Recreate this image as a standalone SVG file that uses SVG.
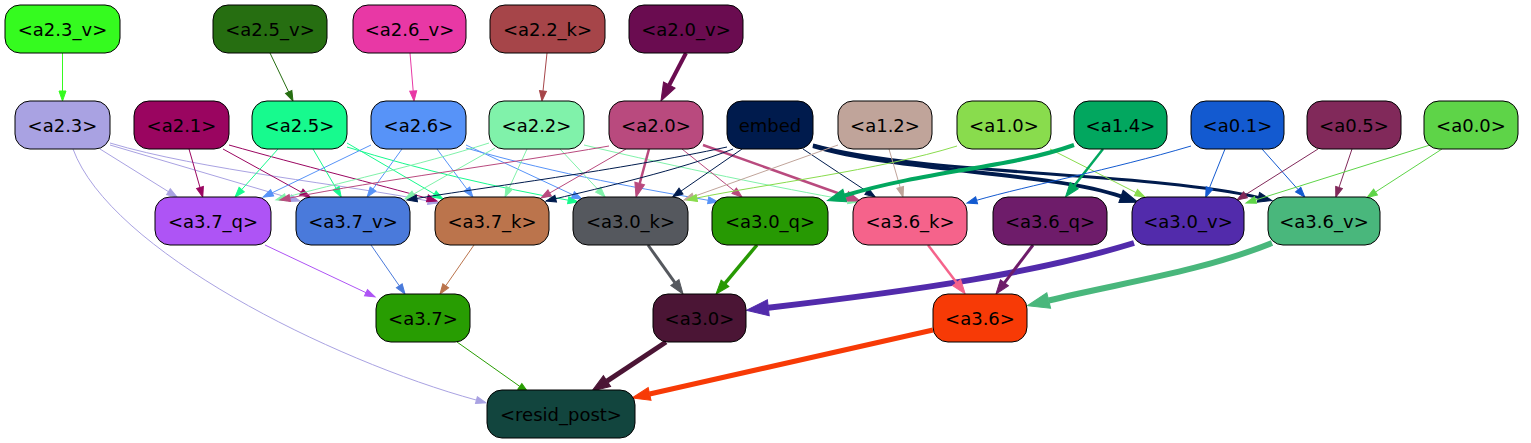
<svg xmlns="http://www.w3.org/2000/svg" width="1531" height="443" viewBox="0 0 1531 443">
<style>
.n rect{stroke:#000;stroke-width:1}
.n text{font-family:"DejaVu Sans","Liberation Sans",sans-serif;font-size:18px;text-anchor:middle;fill:#000}
#edges path{fill:none}
</style>
<defs>
<marker id="t-a23v" markerUnits="userSpaceOnUse" orient="auto" overflow="visible" markerWidth="1" markerHeight="1"><path d="M0,-3.5L10,0L0,3.5z" fill="#35fb1f" stroke="#35fb1f"/></marker>
<marker id="t-a25v" markerUnits="userSpaceOnUse" orient="auto" overflow="visible" markerWidth="1" markerHeight="1"><path d="M0,-3.5L10,0L0,3.5z" fill="#266e11" stroke="#266e11"/></marker>
<marker id="t-a26v" markerUnits="userSpaceOnUse" orient="auto" overflow="visible" markerWidth="1" markerHeight="1"><path d="M0,-3.5L10,0L0,3.5z" fill="#e838a5" stroke="#e838a5"/></marker>
<marker id="t-a22k" markerUnits="userSpaceOnUse" orient="auto" overflow="visible" markerWidth="1" markerHeight="1"><path d="M0,-3.5L10,0L0,3.5z" fill="#a64549" stroke="#a64549"/></marker>
<marker id="t-a23" markerUnits="userSpaceOnUse" orient="auto" overflow="visible" markerWidth="1" markerHeight="1"><path d="M0,-3.5L10,0L0,3.5z" fill="#a9a2e2" stroke="#a9a2e2"/></marker>
<marker id="t-a21" markerUnits="userSpaceOnUse" orient="auto" overflow="visible" markerWidth="1" markerHeight="1"><path d="M0,-3.5L10,0L0,3.5z" fill="#9a0560" stroke="#9a0560"/></marker>
<marker id="t-a25" markerUnits="userSpaceOnUse" orient="auto" overflow="visible" markerWidth="1" markerHeight="1"><path d="M0,-3.5L10,0L0,3.5z" fill="#17fa8e" stroke="#17fa8e"/></marker>
<marker id="t-a26" markerUnits="userSpaceOnUse" orient="auto" overflow="visible" markerWidth="1" markerHeight="1"><path d="M0,-3.5L10,0L0,3.5z" fill="#5793f8" stroke="#5793f8"/></marker>
<marker id="t-a22" markerUnits="userSpaceOnUse" orient="auto" overflow="visible" markerWidth="1" markerHeight="1"><path d="M0,-3.5L10,0L0,3.5z" fill="#80f2aa" stroke="#80f2aa"/></marker>
<marker id="t-a20" markerUnits="userSpaceOnUse" orient="auto" overflow="visible" markerWidth="1" markerHeight="1"><path d="M0,-3.5L10,0L0,3.5z" fill="#b94a7e" stroke="#b94a7e"/></marker>
<marker id="t-emb" markerUnits="userSpaceOnUse" orient="auto" overflow="visible" markerWidth="1" markerHeight="1"><path d="M0,-3.5L10,0L0,3.5z" fill="#001b4d" stroke="#001b4d"/></marker>
<marker id="t-a12" markerUnits="userSpaceOnUse" orient="auto" overflow="visible" markerWidth="1" markerHeight="1"><path d="M0,-3.5L10,0L0,3.5z" fill="#c0a49a" stroke="#c0a49a"/></marker>
<marker id="t-a10" markerUnits="userSpaceOnUse" orient="auto" overflow="visible" markerWidth="1" markerHeight="1"><path d="M0,-3.5L10,0L0,3.5z" fill="#89dc4d" stroke="#89dc4d"/></marker>
<marker id="t-a01" markerUnits="userSpaceOnUse" orient="auto" overflow="visible" markerWidth="1" markerHeight="1"><path d="M0,-3.5L10,0L0,3.5z" fill="#135ad0" stroke="#135ad0"/></marker>
<marker id="t-a05" markerUnits="userSpaceOnUse" orient="auto" overflow="visible" markerWidth="1" markerHeight="1"><path d="M0,-3.5L10,0L0,3.5z" fill="#81295a" stroke="#81295a"/></marker>
<marker id="t-a00" markerUnits="userSpaceOnUse" orient="auto" overflow="visible" markerWidth="1" markerHeight="1"><path d="M0,-3.5L10,0L0,3.5z" fill="#5ed448" stroke="#5ed448"/></marker>
<marker id="t-a37q" markerUnits="userSpaceOnUse" orient="auto" overflow="visible" markerWidth="1" markerHeight="1"><path d="M0,-3.5L10,0L0,3.5z" fill="#ae54f5" stroke="#ae54f5"/></marker>
<marker id="t-a37v" markerUnits="userSpaceOnUse" orient="auto" overflow="visible" markerWidth="1" markerHeight="1"><path d="M0,-3.5L10,0L0,3.5z" fill="#4a7adb" stroke="#4a7adb"/></marker>
<marker id="t-a37k" markerUnits="userSpaceOnUse" orient="auto" overflow="visible" markerWidth="1" markerHeight="1"><path d="M0,-3.5L10,0L0,3.5z" fill="#bb744c" stroke="#bb744c"/></marker>
<marker id="t-a37" markerUnits="userSpaceOnUse" orient="auto" overflow="visible" markerWidth="1" markerHeight="1"><path d="M0,-3.5L10,0L0,3.5z" fill="#289d02" stroke="#289d02"/></marker>
<marker id="m-a20" markerUnits="userSpaceOnUse" orient="auto" overflow="visible" markerWidth="1" markerHeight="1"><path d="M0,-5L14,0L0,5z" fill="#b94a7e" stroke="#b94a7e"/></marker>
<marker id="m-emb" markerUnits="userSpaceOnUse" orient="auto" overflow="visible" markerWidth="1" markerHeight="1"><path d="M0,-5L14,0L0,5z" fill="#001b4d" stroke="#001b4d"/></marker>
<marker id="m-a14" markerUnits="userSpaceOnUse" orient="auto" overflow="visible" markerWidth="1" markerHeight="1"><path d="M0,-5L14,0L0,5z" fill="#02a75f" stroke="#02a75f"/></marker>
<marker id="m-a30k" markerUnits="userSpaceOnUse" orient="auto" overflow="visible" markerWidth="1" markerHeight="1"><path d="M0,-5L14,0L0,5z" fill="#55585e" stroke="#55585e"/></marker>
<marker id="m-a30q" markerUnits="userSpaceOnUse" orient="auto" overflow="visible" markerWidth="1" markerHeight="1"><path d="M0,-5L14,0L0,5z" fill="#279903" stroke="#279903"/></marker>
<marker id="m-a36k" markerUnits="userSpaceOnUse" orient="auto" overflow="visible" markerWidth="1" markerHeight="1"><path d="M0,-5L14,0L0,5z" fill="#f5638b" stroke="#f5638b"/></marker>
<marker id="m-a36q" markerUnits="userSpaceOnUse" orient="auto" overflow="visible" markerWidth="1" markerHeight="1"><path d="M0,-5L14,0L0,5z" fill="#6e1c6a" stroke="#6e1c6a"/></marker>
<marker id="k-a20v" markerUnits="userSpaceOnUse" orient="auto" overflow="visible" markerWidth="1" markerHeight="1"><path d="M0,-6.5L18,0L0,6.5z" fill="#6a0c50" stroke="#6a0c50"/></marker>
<marker id="k-emb" markerUnits="userSpaceOnUse" orient="auto" overflow="visible" markerWidth="1" markerHeight="1"><path d="M0,-6.5L18,0L0,6.5z" fill="#001b4d" stroke="#001b4d"/></marker>
<marker id="k-a14" markerUnits="userSpaceOnUse" orient="auto" overflow="visible" markerWidth="1" markerHeight="1"><path d="M0,-6.5L18,0L0,6.5z" fill="#02a75f" stroke="#02a75f"/></marker>
<marker id="k-a30" markerUnits="userSpaceOnUse" orient="auto" overflow="visible" markerWidth="1" markerHeight="1"><path d="M0,-6.5L18,0L0,6.5z" fill="#4b1535" stroke="#4b1535"/></marker>
<marker id="k-a36" markerUnits="userSpaceOnUse" orient="auto" overflow="visible" markerWidth="1" markerHeight="1"><path d="M0,-6.5L18,0L0,6.5z" fill="#f73a06" stroke="#f73a06"/></marker>
<marker id="x-a30v" markerUnits="userSpaceOnUse" orient="auto" overflow="visible" markerWidth="1" markerHeight="1"><path d="M0,-8L22,0L0,8z" fill="#522bab" stroke="#522bab"/></marker>
<marker id="x-a36v" markerUnits="userSpaceOnUse" orient="auto" overflow="visible" markerWidth="1" markerHeight="1"><path d="M0,-8L22,0L0,8z" fill="#49b77c" stroke="#49b77c"/></marker>
</defs>
<rect width="1531" height="443" fill="#fff"/>
<g id="edges">
<path d="M62.5,53L62.5,91" stroke="#35fb1f" marker-end="url(#t-a23v)"/>
<path d="M270,53L288.7,92" stroke="#266e11" marker-end="url(#t-a25v)"/>
<path d="M410,53L413.2,91" stroke="#e838a5" marker-end="url(#t-a26v)"/>
<path d="M547,53L543,91" stroke="#a64549" marker-end="url(#t-a22k)"/>
<path d="M686,53L669.3,85" stroke="#6a0c50" stroke-width="4" marker-end="url(#k-a20v)"/>
<path d="M100,149L168.5,191.7" stroke="#a9a2e2" marker-end="url(#t-a23)"/>
<path d="M110,145L290.4,198.2" stroke="#a9a2e2" marker-end="url(#t-a23)"/>
<path d="M110,143C200,170 350,185 428.2,201" stroke="#a9a2e2" marker-end="url(#t-a23)"/>
<path d="M73,149C110,250 330,360 476.4,400.1" stroke="#a9a2e2" marker-end="url(#t-a23)"/>
<path d="M189,149L200,187.5" stroke="#9a0560" marker-end="url(#t-a21)"/>
<path d="M223,149L301.3,192.2" stroke="#9a0560" marker-end="url(#t-a21)"/>
<path d="M229,145C300,165 380,185 427.4,198.3" stroke="#9a0560" marker-end="url(#t-a21)"/>
<path d="M278,149L241.7,189.6" stroke="#17fa8e" marker-end="url(#t-a25)"/>
<path d="M313,149L336.1,188.3" stroke="#17fa8e" marker-end="url(#t-a25)"/>
<path d="M347,143L434.4,194" stroke="#17fa8e" marker-end="url(#t-a25)"/>
<path d="M347,147C420,170 500,188 568.2,200.2" stroke="#17fa8e" marker-end="url(#t-a25)"/>
<path d="M371,145L272.1,192.8" stroke="#5793f8" marker-end="url(#t-a26)"/>
<path d="M402,149L373,189" stroke="#5793f8" marker-end="url(#t-a26)"/>
<path d="M437,149L466.9,189.1" stroke="#5793f8" marker-end="url(#t-a26)"/>
<path d="M466,145L572.9,194.8" stroke="#5793f8" marker-end="url(#t-a26)"/>
<path d="M466,148C560,175 650,190 708.2,200.3" stroke="#5793f8" marker-end="url(#t-a26)"/>
<path d="M489,143C420,165 330,185 285.6,197.3" stroke="#80f2aa" marker-end="url(#t-a22)"/>
<path d="M495,148L413.7,194.1" stroke="#80f2aa" marker-end="url(#t-a22)"/>
<path d="M527,149L509.2,187.9" stroke="#80f2aa" marker-end="url(#t-a22)"/>
<path d="M560,149L598.2,189.7" stroke="#80f2aa" marker-end="url(#t-a22)"/>
<path d="M584,145C680,168 780,188 848.2,200.2" stroke="#80f2aa" marker-end="url(#t-a22)"/>
<path d="M609,146C500,165 380,180 289.8,198" stroke="#b94a7e" marker-end="url(#t-a20)"/>
<path d="M626,149L549.7,193" stroke="#b94a7e" marker-end="url(#t-a20)"/>
<path d="M649,149L639.7,183.5" stroke="#b94a7e" stroke-width="2.5" marker-end="url(#m-a20)"/>
<path d="M682,149L734.2,190.8" stroke="#b94a7e" marker-end="url(#t-a20)"/>
<path d="M703,145L846.8,196.3" stroke="#b94a7e" stroke-width="2.5" marker-end="url(#m-a20)"/>
<path d="M727,147C620,170 480,188 416.9,198.4" stroke="#001b4d" marker-end="url(#t-emb)"/>
<path d="M733,149C680,170 600,188 555.7,198.7" stroke="#001b4d" marker-end="url(#t-emb)"/>
<path d="M742,149L681,191.1" stroke="#001b4d" marker-end="url(#t-emb)"/>
<path d="M803,149L866.8,191.4" stroke="#001b4d" marker-end="url(#t-emb)"/>
<path d="M813,146C900,172 1050,172 1121,196.4" stroke="#001b4d" stroke-width="4" marker-end="url(#k-emb)"/>
<path d="M813,145C920,175 1150,172 1258.4,197.4" stroke="#001b4d" stroke-width="3" marker-end="url(#m-emb)"/>
<path d="M838,145L693.4,196.6" stroke="#c0a49a" marker-end="url(#t-a12)"/>
<path d="M889,149L900.2,187.4" stroke="#c0a49a" marker-end="url(#t-a12)"/>
<path d="M957,146C880,170 760,185 696.8,198" stroke="#89dc4d" marker-end="url(#t-a10)"/>
<path d="M1050,149L1136,192.6" stroke="#89dc4d" marker-end="url(#t-a10)"/>
<path d="M1074,145C1010,168 930,170 844.7,195.5" stroke="#02a75f" stroke-width="4" marker-end="url(#k-a14)"/>
<path d="M1103,149L1074.2,185.7" stroke="#02a75f" stroke-width="2.5" marker-end="url(#m-a14)"/>
<path d="M1191,146C1110,170 1030,185 976.6,200.3" stroke="#135ad0" marker-end="url(#t-a01)"/>
<path d="M1225,149L1209.4,188" stroke="#135ad0" marker-end="url(#t-a01)"/>
<path d="M1262,149L1298.2,189.7" stroke="#135ad0" marker-end="url(#t-a01)"/>
<path d="M1318,149L1245.5,194.7" stroke="#81295a" marker-end="url(#t-a05)"/>
<path d="M1352,149L1339,187.5" stroke="#81295a" marker-end="url(#t-a05)"/>
<path d="M1430,145L1255.5,200" stroke="#5ed448" marker-end="url(#t-a00)"/>
<path d="M1442,149L1375.5,192" stroke="#5ed448" marker-end="url(#t-a00)"/>
<path d="M265,245L366,292.7" stroke="#ae54f5" marker-end="url(#t-a37q)"/>
<path d="M371,245L399.3,285.8" stroke="#4a7adb" marker-end="url(#t-a37v)"/>
<path d="M474,245L445.7,285.8" stroke="#bb744c" marker-end="url(#t-a37k)"/>
<path d="M648,245L674.9,282.6" stroke="#55585e" stroke-width="3" marker-end="url(#m-a30k)"/>
<path d="M757,245L725,283.3" stroke="#279903" stroke-width="3.5" marker-end="url(#m-a30q)"/>
<path d="M1134,243C1040,272 920,290 768.3,307.7" stroke="#522bab" stroke-width="6" marker-end="url(#x-a30v)"/>
<path d="M928,245L956.7,282.7" stroke="#f5638b" stroke-width="2.5" marker-end="url(#m-a36k)"/>
<path d="M1033,245L1004.4,282.8" stroke="#6e1c6a" stroke-width="3" marker-end="url(#m-a36q)"/>
<path d="M1272,243C1200,272 1120,283 1048.7,300.5" stroke="#49b77c" stroke-width="6" marker-end="url(#x-a36v)"/>
<path d="M457,342L519.8,386.4" stroke="#289d02" marker-end="url(#t-a37)"/>
<path d="M666,342L607,381.1" stroke="#4b1535" stroke-width="5" marker-end="url(#k-a30)"/>
<path d="M933,330L649.6,394" stroke="#f73a06" stroke-width="5" marker-end="url(#k-a36)"/>
</g>
<g id="n-a2_3_v" class="n"><rect x="5" y="5" width="115" height="48" rx="15" fill="#35fb1f"/><text x="62.5" y="35.5">&lt;a2.3_v&gt;</text></g>
<g id="n-a2_5_v" class="n"><rect x="213" y="5" width="114" height="48" rx="15" fill="#266e11"/><text x="270" y="35.5">&lt;a2.5_v&gt;</text></g>
<g id="n-a2_6_v" class="n"><rect x="353" y="5" width="113" height="48" rx="15" fill="#e838a5"/><text x="409.5" y="35.5">&lt;a2.6_v&gt;</text></g>
<g id="n-a2_2_k" class="n"><rect x="490" y="5" width="115" height="48" rx="15" fill="#a64549"/><text x="547.5" y="35.5">&lt;a2.2_k&gt;</text></g>
<g id="n-a2_0_v" class="n"><rect x="629" y="5" width="114" height="48" rx="15" fill="#6a0c50"/><text x="686" y="35.5">&lt;a2.0_v&gt;</text></g>
<g id="n-a2_3" class="n"><rect x="15" y="101" width="95" height="48" rx="15" fill="#a9a2e2"/><text x="62.5" y="131.5">&lt;a2.3&gt;</text></g>
<g id="n-a2_1" class="n"><rect x="134" y="101" width="95" height="48" rx="15" fill="#9a0560"/><text x="181.5" y="131.5">&lt;a2.1&gt;</text></g>
<g id="n-a2_5" class="n"><rect x="252" y="101" width="95" height="48" rx="15" fill="#17fa8e"/><text x="299.5" y="131.5">&lt;a2.5&gt;</text></g>
<g id="n-a2_6" class="n"><rect x="371" y="101" width="95" height="48" rx="15" fill="#5793f8"/><text x="418.5" y="131.5">&lt;a2.6&gt;</text></g>
<g id="n-a2_2" class="n"><rect x="489" y="101" width="95" height="48" rx="15" fill="#80f2aa"/><text x="536.5" y="131.5">&lt;a2.2&gt;</text></g>
<g id="n-a2_0" class="n"><rect x="609" y="101" width="94" height="48" rx="15" fill="#b94a7e"/><text x="656" y="131.5">&lt;a2.0&gt;</text></g>
<g id="n-embed" class="n"><rect x="727" y="101" width="86" height="48" rx="15" fill="#001b4d"/><text x="770" y="131.5">embed</text></g>
<g id="n-a1_2" class="n"><rect x="838" y="101" width="94" height="48" rx="15" fill="#c0a49a"/><text x="885" y="131.5">&lt;a1.2&gt;</text></g>
<g id="n-a1_0" class="n"><rect x="957" y="101" width="94" height="48" rx="15" fill="#89dc4d"/><text x="1004" y="131.5">&lt;a1.0&gt;</text></g>
<g id="n-a1_4" class="n"><rect x="1074" y="101" width="93" height="48" rx="15" fill="#02a75f"/><text x="1120.5" y="131.5">&lt;a1.4&gt;</text></g>
<g id="n-a0_1" class="n"><rect x="1191" y="101" width="93" height="48" rx="15" fill="#135ad0"/><text x="1237.5" y="131.5">&lt;a0.1&gt;</text></g>
<g id="n-a0_5" class="n"><rect x="1307" y="101" width="94" height="48" rx="15" fill="#81295a"/><text x="1354" y="131.5">&lt;a0.5&gt;</text></g>
<g id="n-a0_0" class="n"><rect x="1424" y="101" width="94" height="48" rx="15" fill="#5ed448"/><text x="1471" y="131.5">&lt;a0.0&gt;</text></g>
<g id="n-a3_7_q" class="n"><rect x="155" y="197" width="116" height="48" rx="15" fill="#ae54f5"/><text x="213" y="227.5">&lt;a3.7_q&gt;</text></g>
<g id="n-a3_7_v" class="n"><rect x="296" y="197" width="114" height="48" rx="15" fill="#4a7adb"/><text x="353" y="227.5">&lt;a3.7_v&gt;</text></g>
<g id="n-a3_7_k" class="n"><rect x="435" y="197" width="114" height="48" rx="15" fill="#bb744c"/><text x="492" y="227.5">&lt;a3.7_k&gt;</text></g>
<g id="n-a3_0_k" class="n"><rect x="573" y="197" width="115" height="48" rx="15" fill="#55585e"/><text x="630.5" y="227.5">&lt;a3.0_k&gt;</text></g>
<g id="n-a3_0_q" class="n"><rect x="712" y="197" width="116" height="48" rx="15" fill="#279903"/><text x="770" y="227.5">&lt;a3.0_q&gt;</text></g>
<g id="n-a3_6_k" class="n"><rect x="853" y="197" width="114" height="48" rx="15" fill="#f5638b"/><text x="910" y="227.5">&lt;a3.6_k&gt;</text></g>
<g id="n-a3_6_q" class="n"><rect x="993" y="197" width="114" height="48" rx="15" fill="#6e1c6a"/><text x="1050" y="227.5">&lt;a3.6_q&gt;</text></g>
<g id="n-a3_0_v" class="n"><rect x="1132" y="197" width="112" height="48" rx="15" fill="#522bab"/><text x="1188" y="227.5">&lt;a3.0_v&gt;</text></g>
<g id="n-a3_6_v" class="n"><rect x="1268" y="197" width="112" height="48" rx="15" fill="#49b77c"/><text x="1324" y="227.5">&lt;a3.6_v&gt;</text></g>
<g id="n-a3_7" class="n"><rect x="376" y="294" width="94" height="48" rx="15" fill="#289d02"/><text x="423" y="324.5">&lt;a3.7&gt;</text></g>
<g id="n-a3_0" class="n"><rect x="653" y="294" width="93" height="48" rx="15" fill="#4b1535"/><text x="699.5" y="324.5">&lt;a3.0&gt;</text></g>
<g id="n-a3_6" class="n"><rect x="933" y="294" width="94" height="48" rx="15" fill="#f73a06"/><text x="980" y="324.5">&lt;a3.6&gt;</text></g>
<g id="n-resid_post" class="n"><rect x="487" y="390" width="148" height="48" rx="15" fill="#12453e"/><text x="561" y="420.5">&lt;resid_post&gt;</text></g>
</svg>
